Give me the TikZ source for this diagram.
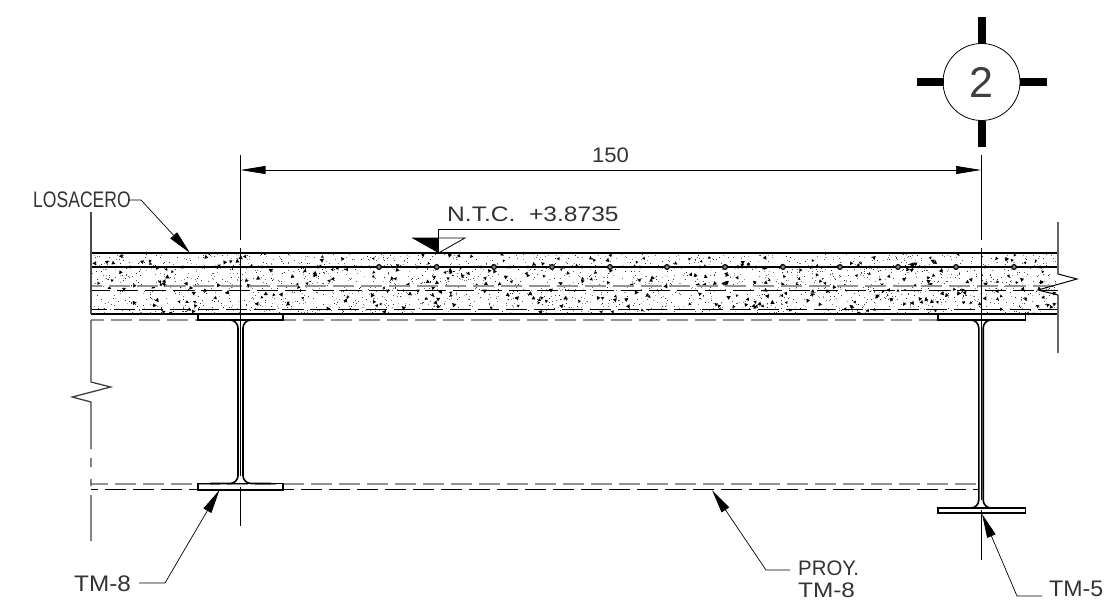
\documentclass[tikz,border=0pt]{standalone}
\usepackage{graphicx}
\usepackage{fontspec}
\setmainfont{Liberation Sans}
\usetikzlibrary{arrows.meta}
\newcommand{\xs}[2]{\scalebox{#1}[1]{#2}}
\tikzset{
  x=1pt,y=-1pt,
  solidline/.style={line width=1.6pt,black},
  thinline/.style={line width=0.8pt,black},
  webline/.style={line width=1.6pt,black},
  graydash/.style={line width=2pt,gray!85,dash pattern=on 21pt off 7pt},
  blackdash/.style={line width=1.4pt,black,dash pattern=on 21pt off 7pt},
  leaderline/.style={line width=0.7pt,black,-{Triangle[length=24pt,width=9pt]}},
  dimline/.style={line width=0.7pt,black,{Triangle[length=25pt,width=8pt]}-{Triangle[length=25pt,width=8pt]}},
  centerline/.style={line width=0.8pt,black},
  label/.style={inner sep=0pt,anchor=west,font=\fontsize{21}{24}\selectfont,text=black!80},
  biglabel/.style={label,font=\fontsize{22.5}{24}\selectfont},
  ticktick/.style={fill=black,draw=none},
}
\newcommand{\ibeam}[8]{% cx, toptop, topbot, botop, botbot, left, right, halfweb
  \draw[webline] (#6,#2) rectangle (#7,#3);
  \draw[webline] (#6,#5) rectangle (#7,#4);
  \draw[webline] (#6+12,#3) -- (#1-#8-8,#3) arc[start angle=270,end angle=360,radius=8] -- (#1-#8,#4-8) arc[start angle=0,end angle=90,radius=8] -- (#6+12,#4);
  \draw[webline] (#7-12,#3) -- (#1+#8+8,#3) arc[start angle=270,end angle=180,radius=8] -- (#1+#8,#4-8) arc[start angle=180,end angle=90,radius=8] -- (#7-12,#4);
}
\begin{document}
\begin{tikzpicture}
\useasboundingbox (0,0) rectangle (1109,600);
% stipple
\begin{scope}
\clip (91,254) rectangle (1058,314);
\pgfmathsetseed{4711}
\foreach \i in {1,...,2300}{
  \pgfmathsetmacro{\px}{91+967*rnd}
  \pgfmathsetmacro{\py}{254+60*rnd}
  \pgfmathsetmacro{\gv}{30+60*rnd}
  \fill[black!\gv] (\px,\py) rectangle +(1,1);
}
\foreach \i in {1,...,360}{
  \pgfmathsetmacro{\px}{91+967*rnd}
  \pgfmathsetmacro{\py}{254+60*rnd}
  \pgfmathsetmacro{\ang}{360*rnd}
  \pgfmathsetmacro{\sz}{2+1.2*rnd}
  \fill[black] (\px,\py) ++(\ang:\sz) -- ++(\ang+130:\sz*1.4) -- ++(\ang+250:\sz*1.4) -- cycle;
}
\end{scope}
% slab lines
\draw[solidline] (91,253) -- (1058,253);
\draw[solidline] (91,267) -- (1058,267);
\draw[solidline] (91,314) -- (1058,314);
\draw[graydash,dash phase=10pt] (91,286) -- (1058,286);
\draw[blackdash,dash phase=2pt] (91,290.5) -- (1058,290.5);
\draw[blackdash,dash phase=5pt] (91,309.5) -- (1058,309.5);
\draw[graydash,dash phase=8pt] (91,320) -- (198,320) (283,320) -- (938,320);
\draw[graydash,dash phase=4pt] (91,483.5) -- (978,483.5);
\draw[blackdash,dash phase=14pt] (91,489.5) -- (978,489.5);
% rebars
\foreach \rx in {379,436.7,494,552,610,667,725,783,840,898,956,1014}
  \draw[line width=1.1pt,black,fill=black!50] (\rx,267) circle[radius=2.4];
\foreach \rx in {130,183,217,262,318,345,417,481,510,528,582,640,700,756,812,870,925,985,1040}
  \fill[black] (\rx,267) circle[radius=1.6];
% edges
\draw[line width=1.5pt,black!70] (91,212) -- (91,314);
\draw[line width=1.3pt,black!75] (91,320) -- (91,382) -- (110.7,387) -- (72.3,397) -- (91,402) -- (91,449) (91,458) -- (91,467) (91,479) -- (91,486) (91,495) -- (91,541);
\draw[line width=1.9pt,black!60] (1058,222) -- (1058,274);
\draw[line width=1.9pt,black!60] (1058,295) -- (1058,353);
\draw[line width=1pt,black] (1058,274) -- (1077,279) -- (1038,290) -- (1058,295);
% beams
\ibeam{240.5}{314}{320}{483.5}{490}{198}{283}{2.5}
\ibeam{981}{314}{320}{508}{513}{938}{1025.5}{2.2}
% centre lines
\draw[centerline] (240.5,155) -- (240.5,240) (240.5,248) -- (240.5,476) (240.5,487) -- (240.5,526);
\draw[centerline] (981,155) -- (981,240) (981,248) -- (981,500) (981,510) -- (981,560);
% dimension
\coordinate (dimL) at (240.5,170);
\coordinate (dimR) at (981,170);
\draw[dimline] (dimL) -- (dimR);
\node[label] (dimtext) at (592,155.5) {\xs{1.05}{150}};
% grid bubble
\node[circle,draw=black,line width=0.8pt,minimum size=77pt,inner sep=0pt] (bubble) at (981.5,82) {};
\node[inner sep=0pt,font=\fontsize{43}{48}\selectfont,text=black!75] (bubbletext) at (981.5,82) {2};
\fill[ticktick] (977.5,17) rectangle (985.5,43.5);
\fill[ticktick] (977.5,121) rectangle (985.5,146.5);
\fill[ticktick] (917,78) rectangle (943.5,86);
\fill[ticktick] (1020,78) rectangle (1046.5,86);
% leaders and labels
\node[biglabel] (losacero) at (33,200) {\xs{0.78}{LOSACERO}};
\coordinate (losaTip) at (190,253);
\coordinate (losaKnee) at (141,200);
\draw[leaderline] (128,200) -- (losaKnee) -- (losaTip);

\node[label] (ntc) at (447,214.5) {\xs{1.17}{N.T.C.\ \ +3.8735}};
\coordinate (ntcTop) at (438.5,229);
\coordinate (ntcEnd) at (620,229);
\coordinate (ntcApex) at (438.5,253);
\draw[thinline] (ntcEnd) -- (ntcTop) -- (ntcApex);
\fill[black] (412,238) -- (438.5,238) -- (ntcApex) -- cycle;
\draw[thinline] (ntcApex) -- (465,238) -- (412,238);

\node[biglabel] (tmleft) at (74,583.5) {\xs{1.08}{TM-8}};
\coordinate (tmleftTip) at (219.5,490);
\coordinate (tmleftKnee) at (165,583);
\draw[leaderline] (139,583) -- (tmleftKnee) -- (tmleftTip);

\node[label] (proy) at (798,568) {\xs{0.97}{PROY.}};
\node[label] (proyb) at (798,590) {\xs{1.16}{TM-8}};
\coordinate (proyTip) at (712,490);
\coordinate (proyKnee) at (766,570);
\draw[leaderline] (790,570) -- (proyKnee) -- (proyTip);

\node[biglabel] (tmright) at (1049,589) {\xs{1.03}{TM-5}};
\coordinate (tmrightTip) at (982,514);
\coordinate (tmrightKnee) at (1017,596);
\draw[leaderline] (1042,596) -- (tmrightKnee) -- (tmrightTip);
\end{tikzpicture}
\end{document}
